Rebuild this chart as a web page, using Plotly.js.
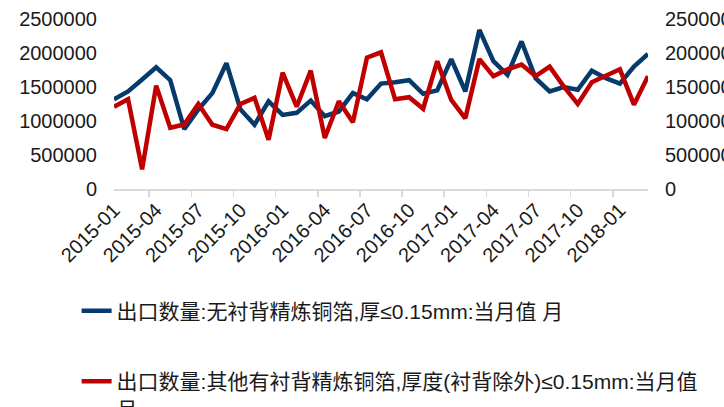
<!DOCTYPE html>
<html>
<head>
<meta charset="utf-8">
<script src="https://cdn.plot.ly/plotly-3.0.1.min.js"></script>
<style>
  html, body { margin: 0; padding: 0; background: #fff; }
  #chart { width: 724px; height: 407px; }
</style>
</head>
<body>
<div id="chart"></div>
<script>
var months = [
  "2015-01","2015-02","2015-03","2015-04","2015-05","2015-06","2015-07","2015-08","2015-09","2015-10","2015-11","2015-12",
  "2016-01","2016-02","2016-03","2016-04","2016-05","2016-06","2016-07","2016-08","2016-09","2016-10","2016-11","2016-12",
  "2017-01","2017-02","2017-03","2017-04","2017-05","2017-06","2017-07","2017-08","2017-09","2017-10","2017-11","2017-12",
  "2018-01","2018-02","2018-03"
];

var seriesName1 = "出口数量:无衬背精炼铜箔,厚≤0.15mm:当月值 月";
var seriesName2 = "出口数量:其他有衬背精炼铜箔,厚度(衬背除外)≤0.15mm:当月值<br>月";

var unlinedFoil = [
  1320000, 1435000, 1610000, 1790000, 1600000, 880000, 1170000, 1410000, 1850000, 1170000, 945000, 1290000,
  1090000, 1120000, 1300000, 1070000, 1140000, 1410000, 1320000, 1550000, 1570000, 1600000, 1400000, 1450000,
  1910000, 1435000, 2340000, 1880000, 1680000, 2170000, 1630000, 1435000, 1500000, 1460000, 1740000, 1630000,
  1550000, 1800000, 1985000
];

var linedFoil = [
  1210000, 1320000, 290000, 1520000, 900000, 950000, 1250000, 945000, 880000, 1250000, 1340000, 725000,
  1710000, 1210000, 1740000, 750000, 1290000, 980000, 1930000, 2010000, 1320000, 1350000, 1180000, 1880000,
  1310000, 1040000, 1910000, 1660000, 1760000, 1830000, 1660000, 1800000, 1510000, 1250000, 1570000, 1660000,
  1760000, 1240000, 1660000
];

var yTickVals = [0, 500000, 1000000, 1500000, 2000000, 2500000];

var tickFont = { family: "Liberation Sans, Arial, sans-serif", size: 20, color: "#1a1a1a" };
var legendFont = { family: "Liberation Sans, Noto Sans CJK SC, sans-serif", size: 21, color: "#1a1a1a" };

var traces = [
  {
    x: months, y: unlinedFoil, type: "scatter", mode: "lines",
    name: seriesName1, legend: "legend",
    line: { color: "#053a6b", width: 4.5 },
    yaxis: "y"
  },
  {
    x: months, y: linedFoil, type: "scatter", mode: "lines",
    name: seriesName2, legend: "legend2",
    line: { color: "#c00000", width: 4.5 },
    yaxis: "y2"
  }
];

var layout = {
  width: 724, height: 407,
  margin: { l: 114, r: 76, t: 19, b: 218, autoexpand: false },
  paper_bgcolor: "#ffffff",
  plot_bgcolor: "#ffffff",
  showlegend: true,
  xaxis: {
    type: "category",
    tickmode: "linear", tick0: 0, dtick: 3,
    tickson: "boundaries",
    ticks: "outside", ticklen: 6, tickcolor: "#d9d9d9", tickwidth: 1.5,
    showline: true, linecolor: "#d9d9d9", linewidth: 1.5,
    showgrid: false, zeroline: false,
    tickangle: -45,
    automargin: false,
    tickfont: tickFont
  },
  yaxis: {
    range: [0, 2500000],
    tickmode: "array", tickvals: yTickVals,
    tickformat: "d",
    showgrid: false, zeroline: false, showline: false,
    ticks: "outside", ticklen: 12, tickcolor: "rgba(0,0,0,0)",
    automargin: false,
    tickfont: tickFont
  },
  yaxis2: {
    range: [0, 2500000],
    overlaying: "y", side: "right",
    tickmode: "array", tickvals: yTickVals,
    tickformat: "d",
    showgrid: false, zeroline: false, showline: false,
    ticks: "outside", ticklen: 12, tickcolor: "rgba(0,0,0,0)",
    automargin: false,
    tickfont: tickFont
  },
  legend: {
    x: -0.07, xanchor: "left",
    y: -0.7176, yanchor: "middle",
    bgcolor: "rgba(0,0,0,0)",
    font: legendFont
  },
  legend2: {
    x: -0.07, xanchor: "left",
    y: -1.012, yanchor: "top",
    valign: "top",
    bgcolor: "rgba(0,0,0,0)",
    font: legendFont
  }
};

Plotly.newPlot("chart", traces, layout, { displayModeBar: false, staticPlot: true });
</script>
</body>
</html>
